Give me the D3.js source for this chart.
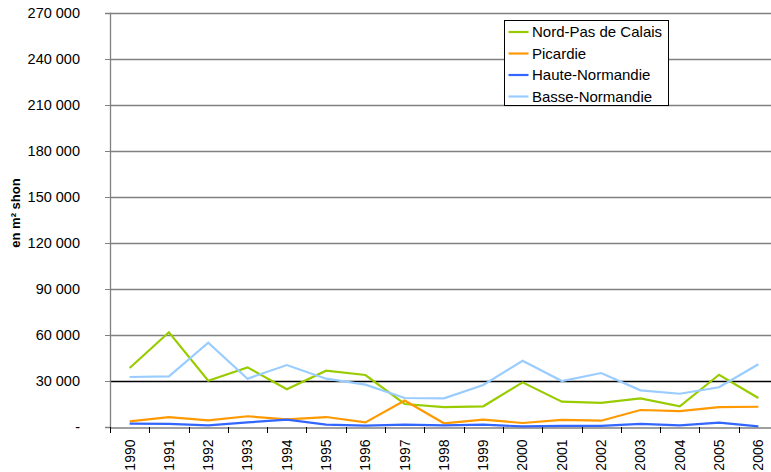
<!DOCTYPE html>
<html>
<head>
<meta charset="utf-8">
<script src="https://cdn.jsdelivr.net/npm/d3@7"></script>
<style>
  body { margin: 0; background: #fff; }
  svg { display: block; font-family: "Liberation Sans", Arial, sans-serif; }
</style>
</head>
<body>
<div id="chart"></div>
<script>
// ==============================
// DATA
// ==============================
const years = ["1990", "1991", "1992", "1993", "1994", "1995", "1996", "1997", "1998",
  "1999", "2000", "2001", "2002", "2003", "2004", "2005", "2006"];

const nordPasDeCalais = [38500, 61800, 30200, 38900, 24600, 36700, 33900, 15000, 13000,
  13500, 29100, 16500, 15700, 18700, 13500, 34100, 18900];
const picardie = [3700, 6500, 4300, 7000, 5000, 6500, 3000, 17200, 2400,
  4800, 2600, 4600, 4100, 11100, 10400, 13000, 13200];
const hauteNormandie = [2200, 2000, 1100, 3000, 4800, 1500, 900, 1500, 1100,
  1500, 400, 700, 700, 2000, 1100, 2800, 400];
const basseNormandie = [32600, 33000, 55000, 31500, 40400, 31500, 27600, 18900, 18700,
  27400, 43200, 30000, 35200, 23900, 21700, 25900, 40900];

const seriesNames = ["Nord-Pas de Calais", "Picardie", "Haute-Normandie", "Basse-Normandie"];
const seriesColors = ["#99cc00", "#ff9900", "#3366ff", "#99ccff"];
const yTicks = [0, 30000, 60000, 90000, 120000, 150000, 180000, 210000, 240000, 270000];

const series = [nordPasDeCalais, picardie, hauteNormandie, basseNormandie].map((values, i) => ({
  name: seriesNames[i],
  color: seriesColors[i],
  values: values
}));

// ==============================
// SVG SETUP
// ==============================
const width = 771;
const height = 472;
const margin = { top: 13, right: -7, bottom: 45, left: 110 };
const fontFamily = "'Liberation Sans', Arial, sans-serif";

const svg = d3.select("#chart")
  .append("svg")
  .attr("width", width)
  .attr("height", height);

const x = d3.scaleBand()
  .domain(years)
  .range([margin.left, width - margin.right]);

const y = d3.scaleLinear()
  .domain([0, 270000])
  .range([height - margin.bottom, margin.top]);

const fmt = v => v === 0 ? "-" : d3.format(",")(v).replace(/,/g, " ");

// gridlines
svg.append("g")
  .selectAll("line")
  .data(yTicks.filter(d => d > 0))
  .enter()
  .append("line")
  .attr("x1", margin.left)
  .attr("x2", width)
  .attr("y1", d => Math.round(y(d)) + 0.5)
  .attr("y2", d => Math.round(y(d)) + 0.5)
  .attr("stroke", d => d === 30000 ? "#000" : "#808080")
  .attr("stroke-width", 1.3);

// y axis
const yAxis = svg.append("g")
  .attr("transform", `translate(${margin.left},0)`)
  .call(d3.axisLeft(y).tickValues(yTicks).tickSize(5).tickPadding(25).tickFormat(fmt));
yAxis.select(".domain").attr("stroke", "#808080").attr("stroke-width", 1.3);
yAxis.selectAll(".tick line").attr("stroke", "#808080");
yAxis.selectAll(".tick text").attr("font-size", 14.5).attr("fill", "#000")
  .attr("font-family", fontFamily);

// x axis
const xAxis = svg.append("g")
  .attr("transform", `translate(0,${Math.round(y(0)) + 0.5})`)
  .call(d3.axisBottom(x).tickSize(0).tickPadding(0));
xAxis.select(".domain").attr("stroke", "#808080").attr("stroke-width", 1.3);
xAxis.selectAll(".tick text")
  .attr("font-size", 14)
  .attr("fill", "#000")
  .attr("font-family", fontFamily)
  .attr("text-anchor", "end")
  .attr("dy", "0.35em")
  .attr("transform", "translate(0,12) rotate(-90)");

// boundary ticks between categories
svg.append("g")
  .selectAll("line")
  .data(years)
  .enter()
  .append("line")
  .attr("x1", d => Math.round(x(d)) + 0.5)
  .attr("x2", d => Math.round(x(d)) + 0.5)
  .attr("y1", y(0))
  .attr("y2", y(0) + 6)
  .attr("stroke", "#000");

// axis title
svg.append("text")
  .attr("transform", `translate(20,213) rotate(-90)`)
  .attr("text-anchor", "middle")
  .attr("font-size", 13)
  .attr("font-weight", "bold")
  .attr("font-family", fontFamily)
  .text("en m² shon");

// ==============================
// LINES
// ==============================
const line = d3.line()
  .x((d, i) => x(years[i]) + x.bandwidth() / 2)
  .y(d => y(d));

svg.append("g")
  .selectAll("path")
  .data(series)
  .enter()
  .append("path")
  .attr("d", d => line(d.values))
  .attr("fill", "none")
  .attr("stroke", d => d.color)
  .attr("stroke-width", 2.2);

// ==============================
// LEGEND
// ==============================
const legend = svg.append("g").attr("transform", "translate(504.5,20.5)");
legend.append("rect")
  .attr("width", 164)
  .attr("height", 85)
  .attr("fill", "#fff")
  .attr("stroke", "#000");

const items = legend.selectAll("g.item")
  .data(series)
  .enter()
  .append("g")
  .attr("transform", (d, i) => `translate(0,${11.5 + i * 21.5})`);
items.append("line")
  .attr("x1", 4).attr("x2", 24)
  .attr("stroke", d => d.color)
  .attr("stroke-width", 2.2);
items.append("text")
  .attr("x", 27.5)
  .attr("dy", "0.35em")
  .attr("font-size", 15)
  .attr("font-family", fontFamily)
  .text(d => d.name);
</script>
</body>
</html>
